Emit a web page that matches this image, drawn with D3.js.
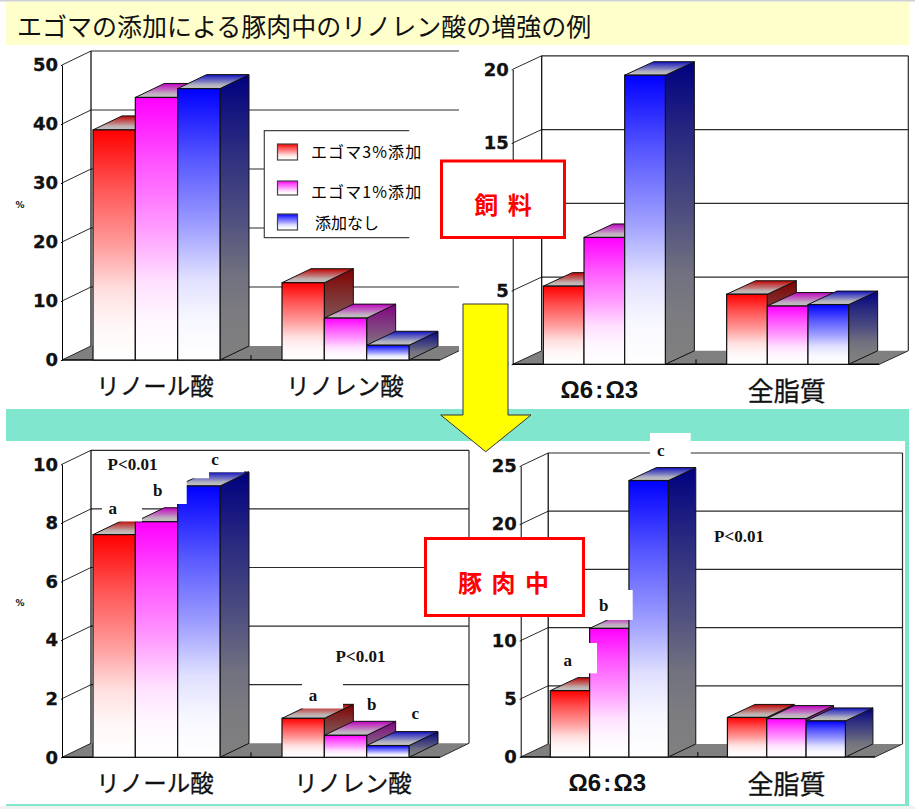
<!DOCTYPE html>
<meta charset="utf-8">
<style>
  body { margin: 0; background: #fff; }
  svg { display: block; }
  .tick text { font-family: "DejaVu Sans"; font-weight: bold; font-size: 18px; fill: #111; stroke: #111; stroke-width: 0.3px; }
  .cat { font-family: "Noto Sans CJK JP"; font-size: 23px; fill: #111; text-anchor: middle; dominant-baseline: central; }
  .sig { font-family: "Liberation Serif"; font-weight: bold; font-size: 17px; fill: #111; text-anchor: middle; dominant-baseline: central; }
  .leg { font-family: "Noto Sans CJK JP"; font-size: 16px; fill: #000; dominant-baseline: central; }
</style>
<script src="https://cdn.jsdelivr.net/npm/d3@7"></script>
<div id="chart"></div>
<script>
  // series, same order everywhere
  var seriesNames = ["エゴマ3%添加", "エゴマ1%添加", "添加なし"];
  var seriesFront = ["#ff0000", "#ff00ff", "#0000ff"];
  var seriesSide = ["#800000", "#800080", "#000080"];
  var seriesCap = ["#c00000", "#c000c0", "#1010c0"];

  var acidCats = ["リノール酸", "リノレン酸"];
  var ratioCats = ["Ω6 : Ω3", "全脂質"];

  // feed, acids (%)
  var feedAcid3 = [39, 13.1];
  var feedAcid1 = [44.5, 7.1];
  var feedAcid0 = [46, 2.5];
  var feedAcidTicks = [0, 10, 20, 30, 40, 50];

  // feed, ratio and total fat
  var feedRatio3 = [5.3, 4.75];
  var feedRatio1 = [8.6, 3.95];
  var feedRatio0 = [19.6, 4.05];
  var feedRatioTicks = [0, 5, 10, 15, 20];

  // pork, acids (%)
  var porkAcid3 = [7.6, 1.33];
  var porkAcid1 = [8.04, 0.75];
  var porkAcid0 = [9.26, 0.4];
  var porkAcidTicks = [0, 2, 4, 6, 8, 10];

  // pork, ratio and total fat
  var porkRatio3 = [5.7, 3.4];
  var porkRatio1 = [11.05, 3.3];
  var porkRatio0 = [23.75, 3.1];
  var porkRatioTicks = [0, 5, 10, 15, 20, 25];

  var width = 915, height = 809;

  var svg = d3.select("#chart").append("svg")
    .attr("width", width)
    .attr("height", height);

  var defs = svg.append("defs");

  // the fade is not linear: most of the colour is gone by three quarters down
  function gradient(id, from, to) {
    var mix = d3.interpolateRgb(from, to);
    var g = defs.append("linearGradient").attr("id", id)
      .attr("x1", 0).attr("y1", 0).attr("x2", 0).attr("y2", 1);
    [[0, 0], [0.25, 0.33], [0.5, 0.61], [0.7, 0.88], [0.85, 0.97], [1, 1]].forEach(function (s) {
      g.append("stop").attr("offset", s[0]).attr("stop-color", mix(s[1]));
    });
  }

  seriesNames.forEach(function (d, i) {
    gradient("front" + i, seriesFront[i], "#ffffff");
    gradient("side" + i, seriesSide[i], "#808080");
    gradient("cap" + i, seriesCap[i], "#c0c0c0");
  });

  // page background bands
  svg.append("rect").attr("width", width).attr("height", 1.5).attr("fill", "#d0d0d0");
  svg.append("rect").attr("x", 6).attr("y", 2).attr("width", 903).attr("height", 43).attr("fill", "#ffffcc");
  svg.append("rect").attr("x", 6).attr("y", 409).attr("width", 903).attr("height", 397).attr("fill", "#80e6ce");
  svg.append("rect").attr("x", 6).attr("y", 441).attr("width", 899).attr("height", 363).attr("fill", "#ffffff");
  svg.append("rect").attr("y", 806).attr("width", width).attr("height", 3).attr("fill", "#f0f0f0");

  svg.append("text")
    .attr("x", 17).attr("y", 25)
    .attr("dominant-baseline", "central")
    .style("font-family", "Noto Sans CJK JP")
    .style("font-size", "25px")
    .style("fill", "#111")
    .text("エゴマの添加による豚肉中のリノレン酸の増強の例");

  function drawPanel(p) {
    var g = svg.append("g");

    if (p.clipRight) {
      defs.append("clipPath").attr("id", p.id)
        .append("rect").attr("x", 0).attr("y", 0).attr("width", p.clipRight).attr("height", height);
      g.attr("clip-path", "url(#" + p.id + ")");
    }

    var y = d3.scaleLinear().domain(p.domain).range([p.y0, p.yTop]);
    var x0 = d3.scaleBand().domain(p.cats).range([p.left, p.right]);
    var x1 = d3.scaleBand().domain(seriesNames).range([0, p.groupW]);
    var dx = p.dx, dy = p.dy;

    // floor
    g.append("path")
      .attr("d", "M" + p.left + "," + p.y0 + "L" + p.right + "," + p.y0 +
        "L" + (p.right + dx) + "," + (p.y0 - dy) + "L" + (p.left + dx) + "," + (p.y0 - dy) + "Z")
      .attr("fill", "#808080");

    // walls and grid
    var line = "#2a2a2a";
    g.selectAll(".grid").data(p.ticks.slice(1)).enter().append("line")
      .attr("x1", p.left + dx).attr("x2", p.right + dx)
      .attr("y1", function (d) { return y(d) - dy; })
      .attr("y2", function (d) { return y(d) - dy; })
      .attr("stroke", line).attr("stroke-width", 1.2);
    g.selectAll(".slant").data(p.ticks).enter().append("line")
      .attr("x1", p.left).attr("x2", p.left + dx)
      .attr("y1", function (d) { return y(d); })
      .attr("y2", function (d) { return y(d) - dy; })
      .attr("stroke", line).attr("stroke-width", 1);
    var top = y(p.domain[1]) - dy;
    g.append("line").attr("x1", p.left + dx).attr("x2", p.left + dx)
      .attr("y1", top).attr("y2", p.y0 - dy).attr("stroke", "#000").attr("stroke-width", 1.2);
    g.append("line").attr("x1", p.right + dx).attr("x2", p.right + dx)
      .attr("y1", top).attr("y2", p.y0 - dy).attr("stroke", line).attr("stroke-width", 1.2);
    g.append("line").attr("x1", p.right).attr("x2", p.right + dx)
      .attr("y1", p.y0).attr("y2", p.y0 - dy).attr("stroke", line).attr("stroke-width", 1);

    // y axis
    var axis = g.append("g")
      .attr("transform", "translate(" + p.left + ",0)")
      .call(d3.axisLeft(y).tickValues(p.ticks).tickSize(1).tickPadding(3).tickSizeOuter(0));
    axis.selectAll("path,line").attr("stroke", "#000").attr("stroke-width", 1);
    // these labels sit under the red caption boxes in the original
    axis.selectAll(".tick text")
      .filter(function (d) { return d === p.coveredTick; })
      .remove();

    // front floor edge and tick between the groups
    g.append("line").attr("x1", p.left).attr("x2", p.right)
      .attr("y1", p.y0).attr("y2", p.y0).attr("stroke", "#000").attr("stroke-width", 1.4);
    g.append("line").attr("x1", x0(p.cats[1])).attr("x2", x0(p.cats[1]))
      .attr("y1", p.y0).attr("y2", p.y0 - 5).attr("stroke", "#000");

    // bars, left to right so the nearer faces overlap correctly
    p.cats.forEach(function (cat, c) {
      var gx = x0(cat) + (x0.bandwidth() - p.groupW) / 2;
      seriesNames.forEach(function (s, i) {
        var v = p.values[i][c];
        var bx = gx + x1(s), bw = x1.bandwidth();
        var t = y(v), b = y(0);
        // side
        g.append("path")
          .attr("d", "M" + (bx + bw) + "," + t + "L" + (bx + bw + dx) + "," + (t - dy) +
            "L" + (bx + bw + dx) + "," + (b - dy) + "L" + (bx + bw) + "," + b + "Z")
          .attr("fill", "url(#side" + i + ")").attr("stroke", "#111").attr("stroke-width", 1);
        // top
        g.append("path")
          .attr("d", "M" + bx + "," + t + "L" + (bx + dx) + "," + (t - dy) +
            "L" + (bx + bw + dx) + "," + (t - dy) + "L" + (bx + bw) + "," + t + "Z")
          .attr("fill", "url(#cap" + i + ")").attr("stroke", "#111").attr("stroke-width", 1);
        // front
        g.append("rect")
          .attr("x", bx).attr("y", t).attr("width", bw).attr("height", b - t)
          .attr("fill", "url(#front" + i + ")").attr("stroke", "#111").attr("stroke-width", 1.2);
      });
    });

    // pasted white boxes behind the significance letters
    g.selectAll(".patch").data(p.patches || []).enter().append("rect")
      .attr("x", function (d) { return d[0]; })
      .attr("y", function (d) { return d[1]; })
      .attr("width", function (d) { return d[2] - d[0]; })
      .attr("height", function (d) { return d[3] - d[1]; })
      .attr("fill", "#fff");

    g.selectAll(".sig").data(p.notes || []).enter().append("text")
      .attr("class", "sig")
      .attr("x", function (d) { return d[0]; })
      .attr("y", function (d) { return d[1]; })
      .text(function (d) { return d[2]; });

    // category labels
    p.cats.forEach(function (cat, c) {
      var isRatio = cat.indexOf("Ω") === 0;
      svg.append("text")
        .attr("class", "cat")
        .attr("x", x0(cat) + x0.bandwidth() / 2 + p.catShift[c])
        .attr("y", p.catY)
        .style("font-family", isRatio ? "Liberation Sans" : null)
        .style("font-weight", isRatio ? "bold" : "normal")
        .style("font-size", isRatio ? "24px" : p.catSize)
        .style("word-spacing", isRatio ? "-4.5px" : null)
        .style("stroke", "#111").style("stroke-width", isRatio ? 0 : 0.3)
        .text(cat);
    });

    if (p.unitY) {
      svg.append("text")
        .attr("x", 20).attr("y", p.unitY)
        .attr("text-anchor", "middle").attr("dominant-baseline", "central")
        .style("font-family", "DejaVu Sans").style("font-weight", "bold").style("font-size", "9px")
        .style("fill", "#111")
        .text("%");
    }
  }

  drawPanel({
    id: "clipA", clipRight: 459, cats: acidCats, domain: [0, 50], ticks: feedAcidTicks,
    values: [feedAcid3, feedAcid1, feedAcid0],
    left: 62, right: 440, y0: 360, yTop: 65, dx: 29, dy: 14, groupW: 127,
    catY: 385, catSize: "23.5px", catShift: [-1.5, -0.5], unitY: 205
  });

  drawPanel({
    cats: ratioCats, domain: [0, 20], ticks: feedRatioTicks, coveredTick: 10,
    values: [feedRatio3, feedRatio1, feedRatio0],
    left: 512.7, right: 879.3, y0: 364.3, yTop: 69.3, dx: 29, dy: 13.5, groupW: 122,
    catY: 389, catSize: "26px", catShift: [-5, -1]
  });

  drawPanel({
    cats: acidCats, domain: [0, 10], ticks: porkAcidTicks,
    values: [porkAcid3, porkAcid1, porkAcid0],
    left: 62, right: 440, y0: 757.3, yTop: 464.3, dx: 29, dy: 14, groupW: 127,
    catY: 782, catSize: "23.5px", catShift: [-1.5, 7.5], unitY: 603,
    patches: [
      [102, 505, 142, 521.5], [142, 472, 177, 506.5], [177, 460, 186.7, 504],
      [186.7, 460, 209, 478.3], [204, 451.5, 244, 472.3],
      [302, 680, 343, 708.5]
    ],
    notes: [
      [132.5, 464, "P<0.01"], [112.7, 508, "a"], [157.7, 490, "b"], [215, 459, "c"],
      [360.5, 656, "P<0.01"], [313, 695.7, "a"], [371.7, 704, "b"], [415.3, 713, "c"]
    ]
  });

  drawPanel({
    cats: ratioCats, domain: [0, 25], ticks: porkRatioTicks, coveredTick: 15,
    values: [porkRatio3, porkRatio1, porkRatio0],
    left: 520.7, right: 875, y0: 757, yTop: 466, dx: 27.5, dy: 13, groupW: 118,
    catY: 782.5, catSize: "26px", catShift: [-2, 0],
    patches: [
      [552, 643, 597, 673.3], [590, 590, 632.7, 620], [650, 433, 690.7, 456.7]
    ],
    notes: [
      [567.7, 660, "a"], [603.7, 605.7, "b"], [660.7, 450, "c"], [739, 536, "P<0.01"]
    ]
  });

  // legend, its box has no right edge
  var legend = svg.append("g");
  legend.append("rect").attr("x", 264.3).attr("y", 130.7).attr("width", 176.7).attr("height", 107).attr("fill", "#fff");
  legend.append("path")
    .attr("d", "M409.3,130.7H264.3V237.7H409.3")
    .attr("fill", "none").attr("stroke", "#444").attr("stroke-width", 1.2);

  var swatchY = d3.scalePoint().domain(seriesNames).range([152, 222]);
  seriesNames.forEach(function (s, i) {
    legend.append("rect")
      .attr("x", 277.5).attr("width", 20)
      .attr("y", swatchY(s) - 8 + (i == 1 ? 2 : 0)).attr("height", i == 1 ? 14 : 16)
      .attr("fill", "url(#front" + i + ")").attr("stroke", "#444").attr("stroke-width", 1.2);
    legend.append("text")
      .attr("class", "leg")
      .attr("x", i == 2 ? 315 : 311)
      .attr("y", [150.7, 190.7, 221.7][i])
      .style("letter-spacing", i == 2 ? "0" : "1.1px")
      .text(s);
  });

  // arrow from the feed panels to the pork panels
  var arrow = [[463, 304], [508, 304], [508, 415], [531, 415], [485.7, 451.7], [440.7, 415], [463, 415]];
  svg.append("path")
    .attr("d", d3.line()(arrow) + "Z")
    .attr("fill", "#ffff00").attr("stroke", "#333").attr("stroke-width", 1);

  // red caption boxes
  function caption(x, y, w, h, cx, cy, label, spacing) {
    svg.append("rect").attr("x", x).attr("y", y).attr("width", w).attr("height", h)
      .attr("fill", "#fff").attr("stroke", "#ff0000").attr("stroke-width", 3);
    svg.append("text").attr("x", cx).attr("y", cy)
      .attr("text-anchor", "middle").attr("dominant-baseline", "central")
      .style("font-family", "Noto Sans CJK JP").style("font-weight", "bold").style("font-size", "24px")
      .style("fill", "#ff0000").style("letter-spacing", spacing)
      .text(label);
  }
  caption(441.5, 161, 123, 76.5, 504, 203, "飼 料", "2px");
  caption(425.5, 538.5, 158, 77, 504.5, 581.5, "豚 肉 中", "2px");
</script>
